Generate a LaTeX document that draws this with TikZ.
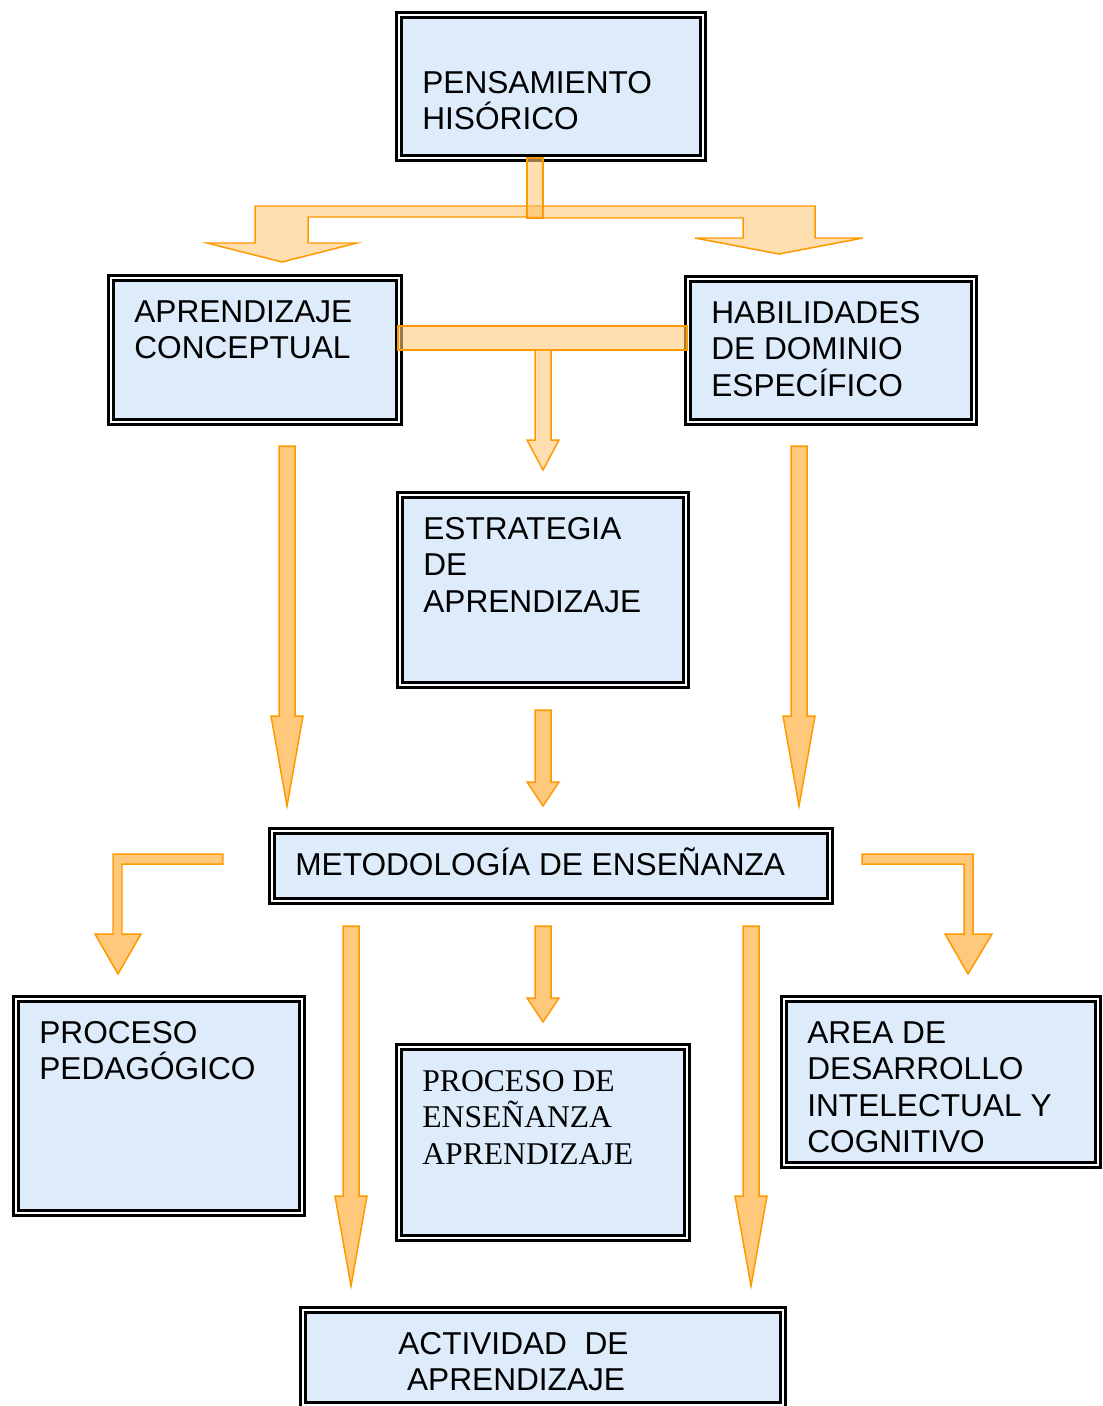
\documentclass[tikz,border=0pt]{standalone}
\usepackage{fontspec}
\setmainfont{Liberation Sans}
\newfontfamily\timesfont{Liberation Serif}
\usepackage{tikz}

\definecolor{boxblue}{HTML}{DDEBFB}
\definecolor{arrline}{HTML}{FF9900}
\definecolor{arrfill}{HTML}{FFC87A}

% straight block arrow pointing down: x, top, head base, tip
\newcommand{\downblock}[5][]{%
  \draw[arrow,#1] (#2-8,#3) -- (#2+8,#3) -- (#2+8,#4) -- (#2+16,#4)
    -- (#2,#5) -- (#2-16,#4) -- (#2-8,#4) -- cycle;}

\begin{document}
\begin{tikzpicture}[x=0.02cm, y=-0.02cm,
    box/.style={draw=black, line width=1.7pt, double=white, double distance=1.1pt,
      fill=boxblue, inner sep=0pt, outer sep=0pt},
    wh/.style 2 args={minimum width=#1*0.02cm, minimum height=#2*0.02cm},
    txt/.style={anchor=base west, align=left, inner sep=0pt,
      font=\fontsize{18pt}{20.8pt}\selectfont},
    nl/.style={yshift=-#1*20.8pt},
    arrow/.style={draw=arrline, line width=0.85pt, fill=arrfill, line join=miter},
    faded/.style={fill opacity=0.6}]
    \useasboundingbox (0,0) rectangle (1102,1406);

    \node[box, wh={304}{143}] (pens) at (551,86.5) {};
    \node[box, wh={288}{144}] (conc) at (255,350) {};
    \node[box, wh={286}{143}] (habi) at (831,350.5) {};
    \node[box, wh={286}{190}] (estr) at (543,590) {};
    \node[box, wh={558}{70}] (meto) at (551,866) {};
    \node[box, wh={286}{214}] (pped) at (159,1106) {};
    \node[box, wh={288}{191}] (proc) at (543,1142.5) {};
    \node[box, wh={314}{166}] (area) at (941,1082) {};
    \node[box, wh={480}{95}] (acti) at (543,1357.5) {};

    \node[txt, nl=1] (pens-t) at ([shift={(23,78)}]pens.north west) {PENSAMIENTO\\HISÓRICO};
    \node[txt, nl=1] (conc-t) at ([shift={(23,44)}]conc.north west) {APRENDIZAJE\\CONCEPTUAL};
    \node[txt, nl=2] (habi-t) at ([shift={(23,44)}]habi.north west) {HABILIDADES\\DE DOMINIO\\ESPECÍFICO};
    \node[txt, nl=2] (estr-t) at ([shift={(23,44)}]estr.north west) {ESTRATEGIA\\DE\\APRENDIZAJE};
    \node[txt] (meto-t) at ([shift={(23,44)}]meto.north west) {METODOLOGÍA DE ENSEÑANZA};
    \node[txt, nl=1] (pped-t) at ([shift={(23,44)}]pped.north west) {PROCESO\\PEDAGÓGICO};
    \node[txt, nl=2, font=\fontsize{18pt}{20.8pt}\timesfont] (proc-t) at ([shift={(23,44)}]proc.north west)
      {PROCESO DE\\ENSEÑANZA\\APRENDIZAJE};
    \node[txt, nl=3] (area-t) at ([shift={(23,44)}]area.north west) {AREA DE\\DESARROLLO\\INTELECTUAL Y\\COGNITIVO};
    \node[txt, nl=1] (acti-t) at ([shift={(95,44)}]acti.north west) {ACTIVIDAD\ \ DE\\\hspace*{0.278em}APRENDIZAJE};

    % split under the first box
    \draw[arrow, faded] (543,206) -- (255,206) -- (255,243) -- (207,243) -- (282,262)
      -- (357,243) -- (308,243) -- (308,217) -- (543,217) -- cycle;
    \draw[arrow, faded] (527,206) -- (815,206) -- (815,238) -- (863,238) -- (779,254)
      -- (695,238) -- (743,238) -- (743,218) -- (527,218) -- cycle;
    \draw[arrow, faded] (527,158) rectangle (543,218);

    % bar between the two boxes
    \draw[arrow, faded] (398,326) rectangle (687,350);
    \downblock[faded]{543}{350}{440}{470}

    \draw[arrow] (279,446) -- (295,446) -- (295,716) -- (303,716) -- (287,806)
      -- (271,716) -- (279,716) -- cycle;
    \draw[arrow] (791,446) -- (807,446) -- (807,716) -- (815,716) -- (799,806)
      -- (783,716) -- (791,716) -- cycle;
    \downblock{543}{710}{782}{806}

    % around the method box
    \draw[arrow] (223,854) -- (113,854) -- (113,934) -- (95,934) -- (118,974)
      -- (141,934) -- (122,934) -- (122,864) -- (223,864) -- cycle;
    \draw[arrow] (862,854) -- (973,854) -- (973,934) -- (992,934) -- (968,974)
      -- (945,934) -- (964,934) -- (964,864) -- (862,864) -- cycle;
    \downblock{543}{926}{998}{1022}
    \draw[arrow] (343,926) -- (359,926) -- (359,1196) -- (367,1196) -- (351,1286)
      -- (335,1196) -- (343,1196) -- cycle;
    \draw[arrow] (743,926) -- (759,926) -- (759,1196) -- (767,1196) -- (751,1286)
      -- (735,1196) -- (743,1196) -- cycle;
\end{tikzpicture}
\end{document}
